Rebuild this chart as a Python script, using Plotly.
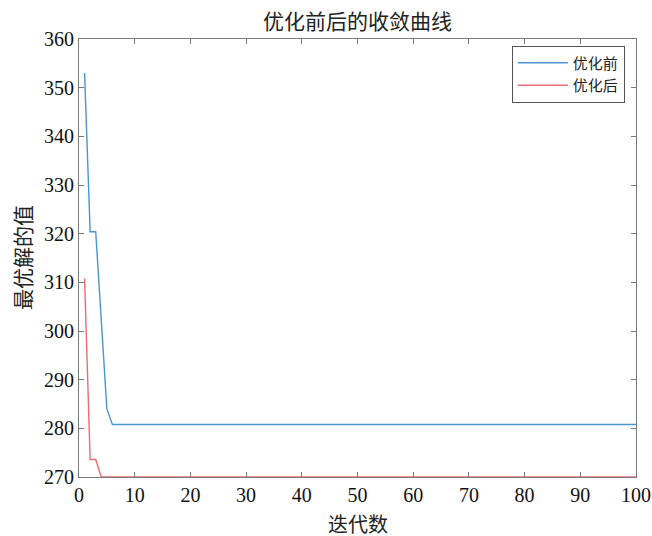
import plotly.graph_objects as go

iterations = list(range(1, 101))
before_head = [353.0, 320.4, 320.4, 302.2, 284.0]
before_tail_value = 280.8
after_head = [310.8, 273.6, 273.6]
after_tail_value = 270.0

before = before_head + [before_tail_value] * (100 - len(before_head))
after = after_head + [after_tail_value] * (100 - len(after_head))

x_ticks = [0, 10, 20, 30, 40, 50, 60, 70, 80, 90, 100]
y_ticks = [270, 280, 290, 300, 310, 320, 330, 340, 350, 360]

cjk = "Noto Sans CJK SC"
serif = "Liberation Serif"

fig = go.Figure()
fig.add_trace(go.Scatter(x=iterations, y=before, mode="lines", name="优化前",
                         line=dict(color="#4a95d3", width=1.4)))
fig.add_trace(go.Scatter(x=iterations, y=after, mode="lines", name="优化后",
                         line=dict(color="#ef6a72", width=1.4)))

axis_common = dict(showgrid=False, zeroline=False, showline=True, mirror="ticks",
                   linecolor="#7a7a7a", linewidth=1, ticks="inside", ticklen=5,
                   tickcolor="#7a7a7a", automargin=False,
                   tickfont=dict(family=serif, size=20, color="#111"))

W, H = 652, 536
L, R, T, B = 79, 16, 39, 59
PW, PH = W - L - R, H - T - B

fig.update_layout(
    width=W, height=H,
    paper_bgcolor="white", plot_bgcolor="white",
    margin=dict(l=L, r=R, t=T, b=B, autoexpand=False),
    title=dict(text="优化前后的收敛曲线", x=0.5, xanchor="center", xref="paper",
               y=1 - 22 / H, yanchor="middle", yref="container", automargin=False,
               font=dict(family=cjk, size=21, color="#222")),
    xaxis=dict(range=[0, 100], tickvals=x_ticks, **axis_common),
    yaxis=dict(range=[270, 360], tickvals=y_ticks, **axis_common),
    legend=dict(x=0.98, y=0.985, xanchor="right", yanchor="top",
                bgcolor="white", bordercolor="#555", borderwidth=1,
                font=dict(family=cjk, size=15, color="#222"),
                itemwidth=50, tracegroupgap=0),
    showlegend=True,
    annotations=[
        dict(text="迭代数", xref="paper", yref="paper", x=0.5, y=(T + PH - 523) / PH,
             xanchor="center", yanchor="middle", showarrow=False,
             font=dict(family=cjk, size=20, color="#222")),
        dict(text="最优解的值", xref="paper", yref="paper", x=(22 - L) / PW, y=0.5,
             xanchor="center", yanchor="middle", showarrow=False, textangle=-90,
             font=dict(family=cjk, size=21, color="#222")),
    ],
)

fig.write_html("out.html", default_width=f"{W}px", default_height=f"{H}px",
               config={"displayModeBar": False},
               post_script="document.body.style.margin='0px';document.body.style.overflow='hidden';")
